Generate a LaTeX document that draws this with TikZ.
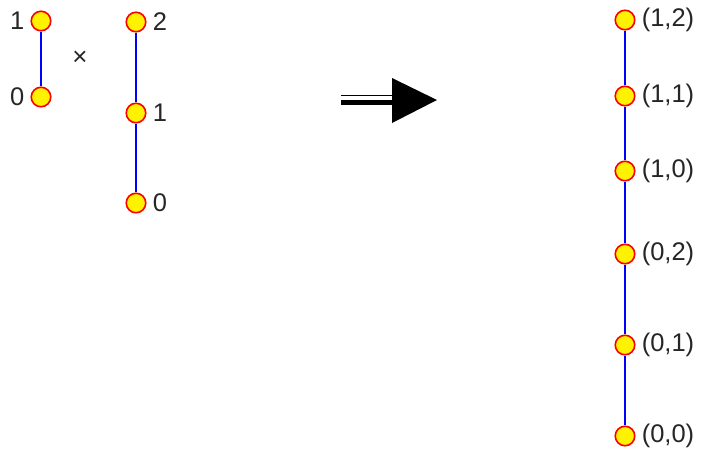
\documentclass[tikz,border=0pt]{standalone}
\usepackage{fontspec}
\setmainfont{Liberation Sans}
\usetikzlibrary{positioning}

\begin{document}
\begin{tikzpicture}[
    x=1pt, y=-1pt,
    vertex/.style={circle, draw=red, line width=1.6pt, fill=yellow, inner sep=0pt, minimum size=19.5pt},
    lbl/.style={font=\fontsize{25.5}{25.5}\selectfont, text=black!85, inner sep=0pt, label distance=6pt},
    edge/.style={draw=blue, line width=1.6pt}
]
\useasboundingbox (0,0) rectangle (703,450);

% first factor
\node[vertex, label={[lbl]left:1}] (a1) at (41,21) {};
\node[vertex, label={[lbl]left:0}] (a0) at (41,97) {};
\draw[edge] (a1) -- (a0);

\node[font=\fontsize{26}{26}\selectfont, text=black!85, inner sep=0pt] (times) at (80,58) {×};

% second factor
\node[vertex, label={[lbl]right:2}] (b2) at (136,22) {};
\node[vertex, label={[lbl]right:1}] (b1) at (136,113) {};
\node[vertex, label={[lbl]right:0}] (b0) at (136,203) {};
\draw[edge] (b2) -- (b1);
\draw[edge] (b1) -- (b0);

% arrow
\draw[line width=1pt] (341,95.5) -- (393,95.5);
\draw[line width=5pt] (341,102) -- (393,102);
\fill (392,78) -- (437,100) -- (392,123) -- cycle;

% product chain
\node[vertex, label={[lbl]right:(1,2)}] (p12) at (625,20) {};
\node[vertex, label={[lbl]right:(1,1)}] (p11) at (625,96) {};
\node[vertex, label={[lbl]right:(1,0)}] (p10) at (625,171) {};
\node[vertex, label={[lbl]right:(0,2)}] (p02) at (625,254) {};
\node[vertex, label={[lbl]right:(0,1)}] (p01) at (625,345) {};
\node[vertex, label={[lbl]right:(0,0)}] (p00) at (625,436) {};
\draw[edge] (p12) -- (p11);
\draw[edge] (p11) -- (p10);
\draw[edge] (p10) -- (p02);
\draw[edge] (p02) -- (p01);
\draw[edge] (p01) -- (p00);
\end{tikzpicture}
\end{document}
